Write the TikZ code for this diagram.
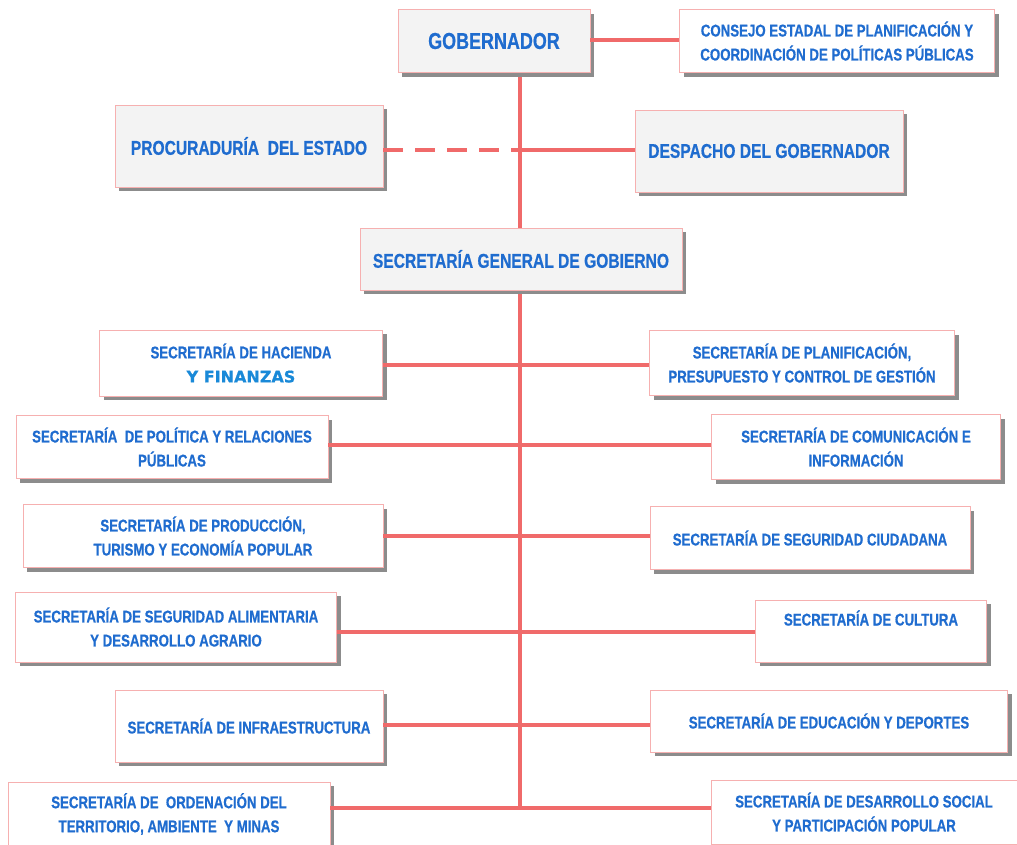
\documentclass[tikz,border=0pt]{standalone}
\usepackage{fontspec}
\usepackage{xcolor}
\usepackage{tikz}
\usetikzlibrary{shadows}
\newfontfamily\orgfont{Liberation Sans}[FakeStretch=0.78,FakeBold=0.6]
\newfontfamily\widefont{DejaVu Sans}[FakeBold=0.8]
\definecolor{orgblue}{HTML}{1F6CCF}
\definecolor{orgline}{HTML}{F06A6A}
\definecolor{orgedge}{HTML}{F6B0B0}
\definecolor{orgfill}{HTML}{F3F3F3}
\tikzset{
	orgbox/.style={draw=orgedge,line width=0.8pt,fill=white,text=orgblue,
		font=\orgfont\bfseries\fontsize{17}{24}\selectfont,align=center,
		drop shadow={shadow xshift=4pt,shadow yshift=-4pt,fill=black!45,opacity=1},
		inner sep=0pt},
	headbox/.style={orgbox,fill=orgfill},
	link/.style={orgline,line width=3.2pt}
}
\begin{document}
\begin{tikzpicture}[x=1pt,y=-1pt]
		\useasboundingbox (0,0) rectangle (1017,844);
		\fill[white] (0,0) rectangle (1017,844);
		% trunk
		\coordinate (trunktop) at (520,73);
		\coordinate (trunkbot) at (520,808);
		\coordinate (junc) at (520,150);
		\draw[link] (trunktop) -- (trunkbot);
		% top level
		\node[headbox,minimum width=192,minimum height=63,font=\orgfont\bfseries\fontsize{23}{28}\selectfont] (gob) at (494,41) {GOBERNADOR};
		\node[orgbox,minimum width=315,minimum height=63] (cons) at (837,41) {CONSEJO ESTADAL DE PLANIFICACIÓN Y\\COORDINACIÓN DE POLÍTICAS PÚBLICAS};
		\node[headbox,minimum width=268,minimum height=82,font=\orgfont\bfseries\fontsize{20}{24}\selectfont] (proc) at (249,146) {PROCURADURÍA\ \ DEL ESTADO};
		\node[headbox,minimum width=268,minimum height=82,font=\orgfont\bfseries\fontsize{20}{24}\selectfont] (desp) at (769,151) {DESPACHO DEL GOBERNADOR};
		\node[headbox,minimum width=322,minimum height=62,font=\orgfont\bfseries\fontsize{20}{24}\selectfont] (sgen) at (521,259) {SECRETARÍA GENERAL DE GOBIERNO};
		% secretarias
		\node[orgbox,minimum width=283,minimum height=66] (haci) at (241,363) {SECRETARÍA DE HACIENDA\\{\widefont\bfseries\fontsize{16}{24}\selectfont\color{orgblue!80!cyan}Y FINANZAS}};
		\node[orgbox,minimum width=305,minimum height=65] (plan) at (802,363) {SECRETARÍA DE PLANIFICACIÓN,\\PRESUPUESTO Y CONTROL DE GESTIÓN};
		\node[orgbox,minimum width=312,minimum height=63] (poli) at (172,447) {SECRETARÍA\ \ DE POLÍTICA Y RELACIONES\\PÚBLICAS};
		\node[orgbox,minimum width=289,minimum height=65] (comu) at (856,447) {SECRETARÍA DE COMUNICACIÓN E\\INFORMACIÓN};
		\node[orgbox,minimum width=360,minimum height=63] (prod) at (203,536) {SECRETARÍA DE PRODUCCIÓN,\\TURISMO Y ECONOMÍA POPULAR};
		\node[orgbox,minimum width=320,minimum height=63] (segu) at (810,538) {SECRETARÍA DE SEGURIDAD CIUDADANA};
		\node[orgbox,minimum width=321,minimum height=70] (alim) at (176,627) {SECRETARÍA DE SEGURIDAD ALIMENTARIA\\Y DESARROLLO AGRARIO};
		\node[orgbox,minimum width=231,minimum height=62] (cult) at (871,631) {SECRETARÍA DE CULTURA\\[2pt]\ };
		\node[orgbox,minimum width=268,minimum height=72] (infr) at (249,726) {SECRETARÍA DE INFRAESTRUCTURA};
		\node[orgbox,minimum width=357,minimum height=62] (educ) at (829,721) {SECRETARÍA DE EDUCACIÓN Y DEPORTES};
		\node[orgbox,minimum width=322,minimum height=64] (orde) at (169,814) {SECRETARÍA DE\ \ ORDENACIÓN DEL\\TERRITORIO, AMBIENTE\ \ Y MINAS};
		\node[orgbox,minimum width=306,minimum height=64] (dsoc) at (864,812) {SECRETARÍA DE DESARROLLO SOCIAL\\Y PARTICIPACIÓN POPULAR};
		% connectors
		\draw[link] (gob.east |- 0,40) -- (cons.west |- 0,40);
		\draw[link,dash pattern=on 20pt off 12pt] (proc.east |- junc) -- (junc);
		\draw[link] (junc) -- (desp.west |- junc);
		\foreach \l/\r/\y in {haci/plan/365,poli/comu/445,prod/segu/536,alim/cult/632,infr/educ/725,orde/dsoc/808}
			\draw[link] (\l.east |- 0,\y) -- (\r.west |- 0,\y);
	\end{tikzpicture}
\end{document}
